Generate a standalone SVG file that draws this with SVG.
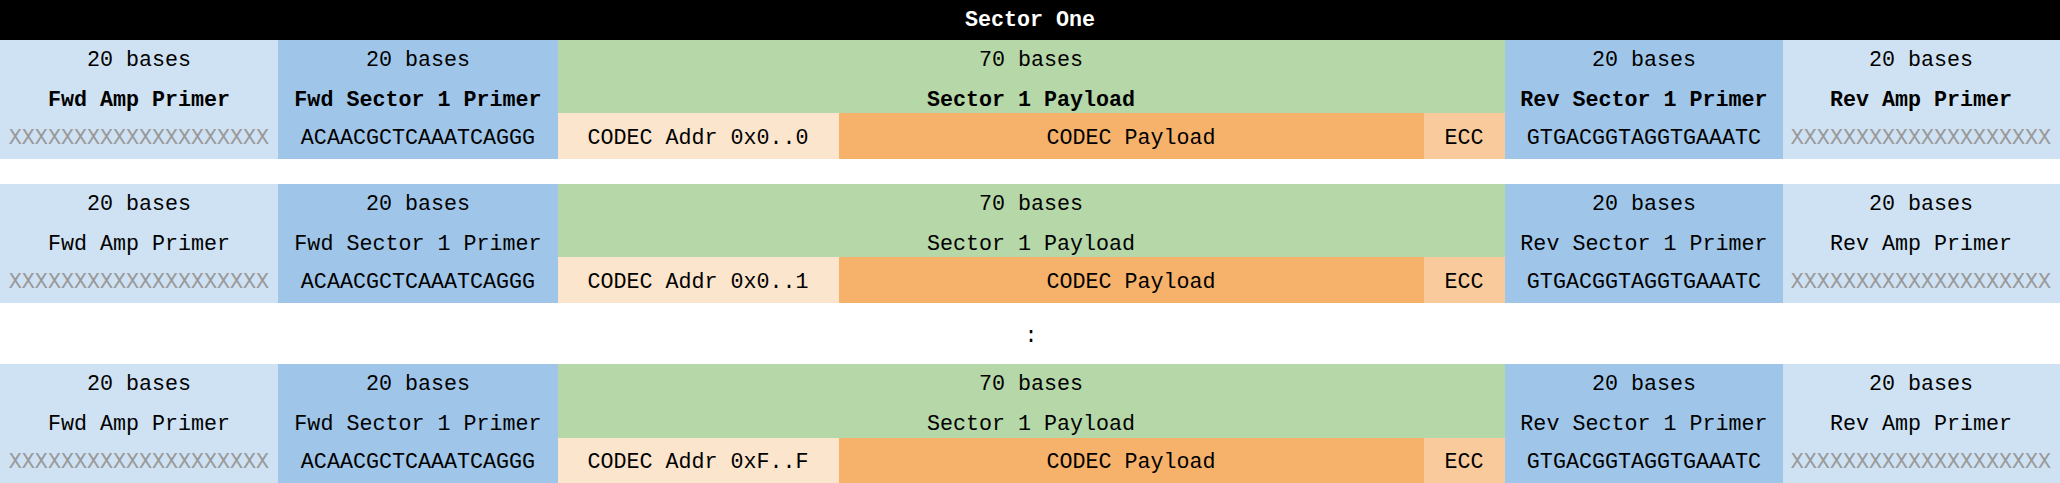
<svg xmlns="http://www.w3.org/2000/svg" width="2060" height="483" viewBox="0 0 2060 483">
<style>
text{font-family:"Liberation Mono","DejaVu Sans Mono",monospace;font-size:21.7px;text-anchor:middle;fill:#000}
.b{font-weight:bold}
.hd{fill:#fff;font-weight:bold}
.x{fill:#999999}
.amp{fill:#cfe2f3}
.sec{fill:#9fc5e8}
.pay{fill:#b6d7a8}
.addr{fill:#fce5cd}
.cp{fill:#f6b26b}
.ecc{fill:#f9cb9c}
</style>
<rect x="0" y="0" width="2060" height="483" fill="#fff"/>
<g id="header">
<rect x="0" y="0" width="2060" height="40" fill="#000"/>
<text class="hd" x="1030" y="25.5">Sector One</text>
</g>

<!-- Row 1 -->
<g id="r1" transform="translate(0,40)">
<g id="r1-fwdamp"><rect class="amp" x="0" y="0" width="278" height="119"/>
<text x="139" y="26">20 bases</text><text class="b" x="139" y="66">Fwd Amp Primer</text><text class="x" x="139" y="104">XXXXXXXXXXXXXXXXXXXX</text></g>
<g id="r1-fwdsec"><rect class="sec" x="278" y="0" width="280" height="119"/>
<text x="418" y="26">20 bases</text><text class="b" x="418" y="66">Fwd Sector 1 Primer</text><text x="418" y="104">ACAACGCTCAAATCAGGG</text></g>
<g id="r1-payload"><rect class="pay" x="558" y="0" width="947" height="73"/>
<text x="1031" y="26">70 bases</text><text class="b" x="1031" y="66">Sector 1 Payload</text></g>
<g id="r1-addr"><rect class="addr" x="558" y="73" width="281" height="46"/><text x="698" y="104">CODEC Addr 0x0..0</text></g>
<g id="r1-cp"><rect class="cp" x="839" y="73" width="585" height="46"/><text x="1131" y="104">CODEC Payload</text></g>
<g id="r1-ecc"><rect class="ecc" x="1424" y="73" width="81" height="46"/><text x="1464" y="104">ECC</text></g>
<g id="r1-revsec"><rect class="sec" x="1505" y="0" width="278" height="119"/>
<text x="1644" y="26">20 bases</text><text class="b" x="1644" y="66">Rev Sector 1 Primer</text><text x="1644" y="104">GTGACGGTAGGTGAAATC</text></g>
<g id="r1-revamp"><rect class="amp" x="1783" y="0" width="277" height="119"/>
<text x="1921" y="26">20 bases</text><text class="b" x="1921" y="66">Rev Amp Primer</text><text class="x" x="1921" y="104">XXXXXXXXXXXXXXXXXXXX</text></g>
</g>

<!-- Row 2 -->
<g id="r2" transform="translate(0,184)">
<g id="r2-fwdamp"><rect class="amp" x="0" y="0" width="278" height="119"/>
<text x="139" y="26">20 bases</text><text x="139" y="66">Fwd Amp Primer</text><text class="x" x="139" y="104">XXXXXXXXXXXXXXXXXXXX</text></g>
<g id="r2-fwdsec"><rect class="sec" x="278" y="0" width="280" height="119"/>
<text x="418" y="26">20 bases</text><text x="418" y="66">Fwd Sector 1 Primer</text><text x="418" y="104">ACAACGCTCAAATCAGGG</text></g>
<g id="r2-payload"><rect class="pay" x="558" y="0" width="947" height="73"/>
<text x="1031" y="26">70 bases</text><text x="1031" y="66">Sector 1 Payload</text></g>
<g id="r2-addr"><rect class="addr" x="558" y="73" width="281" height="46"/><text x="698" y="104">CODEC Addr 0x0..1</text></g>
<g id="r2-cp"><rect class="cp" x="839" y="73" width="585" height="46"/><text x="1131" y="104">CODEC Payload</text></g>
<g id="r2-ecc"><rect class="ecc" x="1424" y="73" width="81" height="46"/><text x="1464" y="104">ECC</text></g>
<g id="r2-revsec"><rect class="sec" x="1505" y="0" width="278" height="119"/>
<text x="1644" y="26">20 bases</text><text x="1644" y="66">Rev Sector 1 Primer</text><text x="1644" y="104">GTGACGGTAGGTGAAATC</text></g>
<g id="r2-revamp"><rect class="amp" x="1783" y="0" width="277" height="119"/>
<text x="1921" y="26">20 bases</text><text x="1921" y="66">Rev Amp Primer</text><text class="x" x="1921" y="104">XXXXXXXXXXXXXXXXXXXX</text></g>
</g>

<g id="ellipsis"><text x="1031" y="342">:</text></g>

<!-- Row 3 -->
<g id="r3" transform="translate(0,364)">
<g id="r3-fwdamp"><rect class="amp" x="0" y="0" width="278" height="119"/>
<text x="139" y="26">20 bases</text><text x="139" y="66">Fwd Amp Primer</text><text class="x" x="139" y="104">XXXXXXXXXXXXXXXXXXXX</text></g>
<g id="r3-fwdsec"><rect class="sec" x="278" y="0" width="280" height="119"/>
<text x="418" y="26">20 bases</text><text x="418" y="66">Fwd Sector 1 Primer</text><text x="418" y="104">ACAACGCTCAAATCAGGG</text></g>
<g id="r3-payload"><rect class="pay" x="558" y="0" width="947" height="74"/>
<text x="1031" y="26">70 bases</text><text x="1031" y="66">Sector 1 Payload</text></g>
<g id="r3-addr"><rect class="addr" x="558" y="74" width="281" height="45"/><text x="698" y="104">CODEC Addr 0xF..F</text></g>
<g id="r3-cp"><rect class="cp" x="839" y="74" width="585" height="45"/><text x="1131" y="104">CODEC Payload</text></g>
<g id="r3-ecc"><rect class="ecc" x="1424" y="74" width="81" height="45"/><text x="1464" y="104">ECC</text></g>
<g id="r3-revsec"><rect class="sec" x="1505" y="0" width="278" height="119"/>
<text x="1644" y="26">20 bases</text><text x="1644" y="66">Rev Sector 1 Primer</text><text x="1644" y="104">GTGACGGTAGGTGAAATC</text></g>
<g id="r3-revamp"><rect class="amp" x="1783" y="0" width="277" height="119"/>
<text x="1921" y="26">20 bases</text><text x="1921" y="66">Rev Amp Primer</text><text class="x" x="1921" y="104">XXXXXXXXXXXXXXXXXXXX</text></g>
</g>
</svg>
